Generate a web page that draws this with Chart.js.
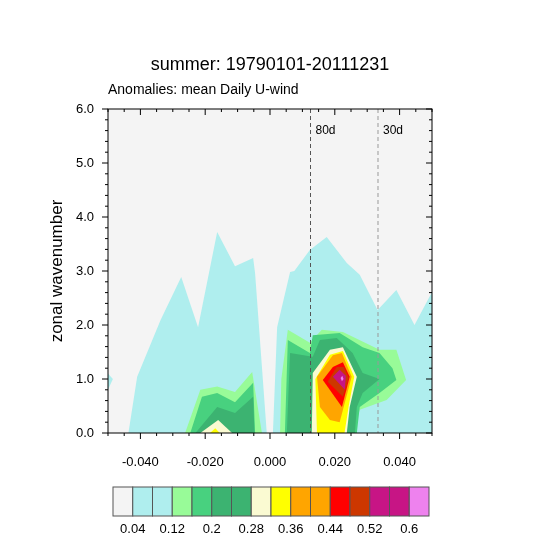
<!DOCTYPE html>
<html><head><meta charset="utf-8">
<script src="https://cdn.jsdelivr.net/npm/chart.js@4"></script>
<style>html,body{margin:0;padding:0;background:#fff}#w{width:541px;height:541px}</style>
</head><body><div id="w"><canvas id="c" width="541" height="541"></canvas></div>
<script>
const cbColors=['#f4f4f4','#afeeee','#afeeee','#98fb98','#48d17f','#3cb371','#3cb371','#fafad2','#ffff00','#ffa500','#ffa500','#ff0000','#cd3700','#c71585','#c71585','#ee82ee'];
const cbLabels=['0.04','0.12','0.2','0.28','0.36','0.44','0.52','0.6'];
const xTicks=[-0.04,-0.02,0,0.02,0.04];
const yTicks=[0,1,2,3,4,5,6];
// contour polygons [x,y]
const cyanA=[[-0.0437,0],[-0.041,1.04],[-0.0338,2.09],[-0.0274,2.89],[-0.0222,1.96],[-0.0163,3.72],[-0.0108,3.09],[-0.0052,3.24],[-0.0046,2.96],[-0.001,0]];
const cyanB=[[0.0009,0],[0.0022,1.96],[0.0062,2.98],[0.0075,3.0],[0.0123,3.39],[0.0175,3.63],[0.0237,3.15],[0.0277,2.93],[0.0332,2.28],[0.039,2.65],[0.0446,2.0],[0.05,2.61],[0.05,0]];
const cyanC=[[-0.05,1.1],[-0.0485,1.0],[-0.05,0.8]];
const lgA=[[-0.0262,0],[-0.0215,0.8],[-0.0163,0.86],[-0.0108,0.76],[-0.0055,1.13],[-0.0025,0]];
const gA=[[-0.0246,0],[-0.021,0.67],[-0.0163,0.74],[-0.0108,0.57],[-0.0052,0.93],[-0.0046,0]];
const dgA=[[-0.023,0],[-0.0163,0.48],[-0.0108,0.37],[-0.0052,0.67],[-0.0048,0]];
const crA=[[-0.0215,0],[-0.016,0.24],[-0.0117,0]];
const yeA=[[-0.0185,0],[-0.0169,0.09],[-0.0155,0]];
const lgB=[[0.0031,0],[0.0035,1.0],[0.0055,1.91],[0.0123,1.67],[0.016,1.91],[0.0225,1.87],[0.0338,1.54],[0.039,1.54],[0.042,0.98],[0.036,0.61],[0.0277,0.43],[0.0255,0]];
const gB=[[0.0046,0],[0.0055,1.72],[0.0123,1.48],[0.0132,1.81],[0.0215,1.85],[0.0286,1.59],[0.0338,1.48],[0.0378,1.2],[0.039,0.98],[0.0338,0.74],[0.0277,0.48],[0.0268,0]];
const dgB=[[0.0052,0],[0.0062,1.48],[0.0132,1.41],[0.0154,1.72],[0.0206,1.76],[0.0255,1.48],[0.0286,1.11],[0.0338,1.0],[0.0286,0.74],[0.0268,0.48],[0.0262,0]];
const crB=[[0.0129,0],[0.0132,1.11],[0.0185,1.54],[0.0225,1.59],[0.0268,1.04],[0.0246,0.48],[0.0237,0]];
const yeB=[[0.0145,0],[0.014,1.0],[0.0185,1.45],[0.0225,1.52],[0.026,1.04],[0.0243,0.5],[0.023,0]];
const orB=[[0.0145,1.04],[0.0194,1.44],[0.0222,1.48],[0.0252,1.04],[0.0215,0.2],[0.0185,0.24],[0.0154,0.48]];
const rdB=[[0.0163,0.98],[0.0194,1.22],[0.0225,1.31],[0.0246,1.04],[0.0222,0.48]];
const brB=[[0.0178,0.95],[0.0206,1.22],[0.0228,1.22],[0.0243,1.02],[0.0225,0.67]];
const mgB=[[0.0194,1.04],[0.0215,1.17],[0.0234,1.06],[0.0231,0.8]];
const viB=[[0.0218,1.02],[0.0223,1.06],[0.0227,1.0],[0.0222,0.96]];
const periods=[{x:1/80,label:'80d',color:'#555'},{x:1/30,label:'30d',color:'#999'}];

const polys=[[cyanA,cbColors[1]],[cyanB,cbColors[1]],[cyanC,cbColors[1]],[lgA,cbColors[3]],[gA,cbColors[4]],[dgA,cbColors[5]],[crA,cbColors[7]],[yeA,cbColors[8]],
[lgB,cbColors[3]],[gB,cbColors[4]],[dgB,cbColors[5]],[crB,cbColors[7]],[yeB,cbColors[8]],[orB,cbColors[9]],[rdB,cbColors[11]],[brB,cbColors[12]],[mgB,cbColors[13]],[viB,cbColors[15]]];

const datasets=polys.map(([p,c])=>({data:p.map(([x,y])=>({x,y})),showLine:false,pointRadius:0,backgroundColor:c,borderColor:c}));

const deco={id:'deco',
beforeDatasetsDraw(ch){const {ctx,chartArea:a}=ch;ctx.save();ctx.fillStyle='#f4f4f4';ctx.fillRect(a.left,a.top,a.width,a.height);
 ctx.beginPath();ctx.rect(a.left,a.top,a.width,a.height);ctx.clip();
 ch.data.datasets.forEach((d,i)=>{const m=ch.getDatasetMeta(i);ctx.beginPath();m.data.forEach((pt,j)=>{j?ctx.lineTo(pt.x,pt.y):ctx.moveTo(pt.x,pt.y)});ctx.closePath();ctx.fillStyle=d.backgroundColor;ctx.fill();});
 ctx.restore();},
afterDatasetsDraw(ch){const {ctx,chartArea:a,scales:{x,y}}=ch;ctx.save();
 periods.forEach(p=>{const px=x.getPixelForValue(p.x);ctx.strokeStyle=p.color;ctx.lineWidth=1;ctx.setLineDash([4,3]);ctx.beginPath();ctx.moveTo(px,a.top);ctx.lineTo(px,a.bottom);ctx.stroke();
  ctx.setLineDash([]);ctx.fillStyle='#000';ctx.font='12px "Liberation Sans", Arial';ctx.textAlign='left';ctx.textBaseline='middle';ctx.fillText(p.label,px+5,a.top+22);});
 ctx.strokeStyle='#000';ctx.lineWidth=1;ctx.strokeRect(a.left,a.top,a.width,a.height);
 // ticks
 for(let v=-0.05;v<=0.0501;v+=0.005){const px=x.getPixelForValue(v);const maj=Math.abs(Math.round(v*1000)%20)<0.5;const L=maj?6:3;
  ctx.beginPath();ctx.moveTo(px,a.bottom);ctx.lineTo(px,a.bottom+L);ctx.moveTo(px,a.top);ctx.lineTo(px,a.top+L);ctx.stroke();}
 for(let v=0;v<=6.001;v+=0.2){const py=y.getPixelForValue(v);const maj=Math.abs(v-Math.round(v))<0.01;const L=maj?6:3;
  ctx.beginPath();ctx.moveTo(a.left,py);ctx.lineTo(a.left-L,py);ctx.moveTo(a.right,py);ctx.lineTo(a.right-L,py);ctx.stroke();}
 // titles
 ctx.fillStyle='#000';ctx.textAlign='center';ctx.textBaseline='middle';ctx.font='18px "Liberation Sans", Arial';ctx.fillText('summer: 19790101-20111231',270,65);
 ctx.textAlign='left';ctx.font='14px "Liberation Sans", Arial';ctx.fillText('Anomalies: mean Daily U-wind',108,90);
 ctx.save();ctx.translate(57,271);ctx.rotate(-Math.PI/2);ctx.textAlign='center';ctx.font='17px "Liberation Sans", Arial';ctx.fillText('zonal wavenumber',0,0);ctx.restore();
 // colorbar
 const L0=113,R0=429,T0=487,B0=516,w=(R0-L0)/cbColors.length;
 cbColors.forEach((c,i)=>{ctx.fillStyle=c;ctx.fillRect(L0+i*w,T0,w,B0-T0);ctx.strokeStyle='#555';ctx.strokeRect(L0+i*w,T0,w,B0-T0);});
 ctx.fillStyle='#000';ctx.textAlign='center';ctx.font='13px "Liberation Sans", Arial';
 cbLabels.forEach((t,i)=>ctx.fillText(t,L0+(2*i+1)*w,529));
 ctx.restore();}};

new Chart(document.getElementById('c'),{type:'scatter',data:{datasets},
options:{responsive:false,animation:false,devicePixelRatio:1,
 layout:{padding:{left:0,top:109,right:109,bottom:0}},
 plugins:{legend:{display:false},tooltip:{enabled:false}},
 scales:{
  x:{type:'linear',min:-0.05,max:0.05,afterFit(s){s.height=108;},afterBuildTicks(s){s.ticks=xTicks.map(v=>({value:v}));},
   grid:{display:false,drawTicks:false},border:{display:false},
   ticks:{padding:22,color:'#000',font:{size:13,family:'"Liberation Sans", Arial'},maxRotation:0,callback:v=>v.toFixed(3)}},
  y:{type:'linear',min:0,max:6,afterFit(s){s.width=108;},afterBuildTicks(s){s.ticks=yTicks.map(v=>({value:v}));},
   grid:{display:false,drawTicks:false},border:{display:false},
   ticks:{padding:14,color:'#000',font:{size:13,family:'"Liberation Sans", Arial'},callback:v=>v.toFixed(1)}}}},
plugins:[deco]});
</script></body></html>
